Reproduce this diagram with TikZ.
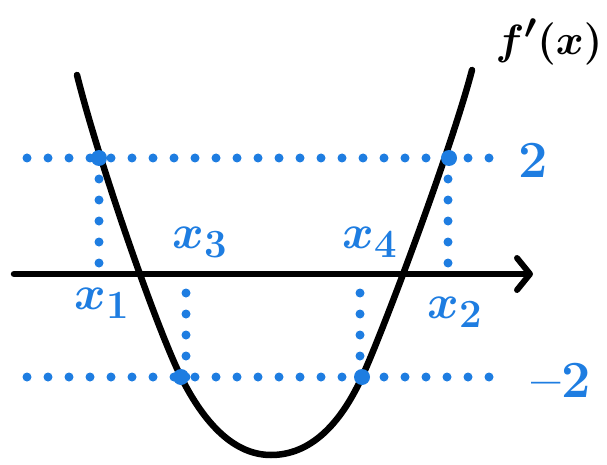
\documentclass[tikz,border=0pt]{standalone}
\usepackage{amsmath}
\usepackage{graphicx}
\usetikzlibrary{arrows.meta}
\definecolor{hblue}{RGB}{30,125,225}
\newcommand{\bigx}[1]{\scalebox{1.93}{\Huge\boldmath$#1$}}
\newcommand{\bignum}[1]{\scalebox{2.1}{\Huge\bfseries #1}}
\begin{document}
\begin{tikzpicture}[x=1pt,y=-1pt,
  curve/.style={line width=6.5pt,black,line cap=round},
  axisline/.style={line width=6.5pt,black,line cap=round,-{Straight Barb[length=13pt,width=32pt,line width=6pt,round]}},
  dotline/.style={hblue,line width=9pt,line cap=round,dash pattern=on 0pt off 21pt},
  bigdot/.style={circle,fill=hblue,inner sep=0pt,minimum size=16pt},
  lab/.style={text=hblue,inner sep=0pt},
  numlab/.style={text=hblue,inner sep=0pt}]
\useasboundingbox (0,0) rectangle (607,465);
% coordinates
\coordinate (tl) at (27,158);
\coordinate (tr) at (503,158);
\coordinate (bl) at (27,377);
\coordinate (br) at (503,377);
\coordinate (ax0) at (14,274);
\coordinate (ax1) at (533,274);
\coordinate (v1t) at (99,158);
\coordinate (v1b) at (99,264);
\coordinate (v2t) at (448,158);
\coordinate (v2b) at (448,264);
\coordinate (v3t) at (186,285);
\coordinate (v3b) at (186,377);
\coordinate (v4t) at (360,285);
\coordinate (v4b) at (360,377);
% dotted lines
\draw[dotline] (tl) -- (tr);
\draw[dotline] (bl) -- (br);
\draw[dotline] (v1t) -- (v1b);
\draw[dotline] (v2t) -- (v2b);
\draw[dotline] (v3b) -- (v3t);
\draw[dotline] (v4b) -- (v4t);
% axis
\draw[axisline] (ax0) -- (ax1);
% parabola
\coordinate (c0) at (77,75);
\coordinate (c1) at (181,377);
\coordinate (c2) at (271,455);
\coordinate (c3) at (362,377);
\coordinate (c4) at (472,70);
\draw[curve] (c0) .. controls (99,163) and (157,329) .. (c1)
  .. controls (205,425) and (235,455) .. (c2)
  .. controls (310,455) and (340,425) .. (c3)
  .. controls (384,329) and (452,147) .. (c4);
% intersection dots
\node[bigdot] (p1) at (99,158) {};
\node[bigdot] (p2) at (449,158) {};
\node[bigdot] (p3) at (181,377) {};
\node[bigdot] (p4) at (362,377) {};
% labels
\node[lab] (x1) at (102,303) {\bigx{x_1}};
\node[lab] (x2) at (455,312) {\bigx{x_2}};
\node[lab] (x3) at (200,242) {\bigx{x_3}};
\node[lab] (x4) at (370,242) {\bigx{x_4}};
\node[numlab] (two) at (533,160) {\bignum{2}};
\node[numlab] (mtwo) at (561,380) {\bignum{--2}};
\node[inner sep=0pt] (f) at (549,42) {\scalebox{1.7}{\Huge\boldmath$f'(x)$}};
\end{tikzpicture}
\end{document}
